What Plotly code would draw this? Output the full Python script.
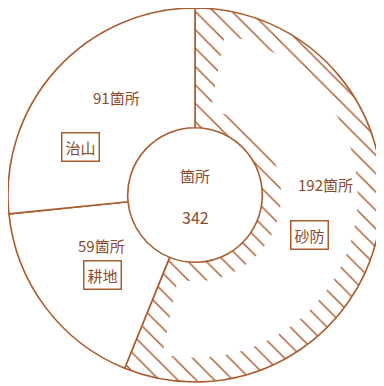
import plotly.graph_objects as go

labels = ["砂防", "耕地", "治山"]
counts = [192, 59, 91]
count_text = ["192箇所", "59箇所", "91箇所"]
total = sum(counts)

LINE = "#a95c2f"
TEXT = "#8a4b2e"
FONT = "Noto Sans CJK JP"

fig = go.Figure()

# main donut, 砂防 hatched
fig.add_trace(
    go.Pie(
        labels=labels,
        values=counts,
        sort=False,
        direction="clockwise",
        rotation=0,
        hole=0.36,
        textinfo="none",
        hoverinfo="skip",
        showlegend=False,
        marker=dict(
            colors=["white", "white", "white"],
            line=dict(color=LINE, width=1.6),
            pattern=dict(
                shape=["\\", "", ""],
                fgcolor=LINE,
                bgcolor="white",
                size=13,
                solidity=0.11,
            ),
        ),
    )
)

# white inset so the hatching only runs along the edges of the 砂防 slice
gap = 10
fig.add_trace(
    go.Pie(
        values=[gap, counts[0] - 2 * gap, gap + counts[1] + counts[2]],
        sort=False,
        direction="clockwise",
        rotation=0,
        hole=0.53,
        textinfo="none",
        hoverinfo="skip",
        showlegend=False,
        domain=dict(x=[0.065, 0.935], y=[0.065, 0.935]),
        marker=dict(colors=["rgba(0,0,0,0)", "white", "rgba(0,0,0,0)"], line=dict(width=0)),
    )
)

# slice labels: count above, boxed name below
label_pos = {
    "砂防": ((0.848, 0.527), (0.807, 0.393)),
    "耕地": ((0.249, 0.364), (0.254, 0.286)),
    "治山": ((0.291, 0.762), (0.193, 0.628)),
}
for name, txt in zip(labels, count_text):
    (cx, cy), (bx, by) = label_pos[name]
    fig.add_annotation(x=cx, y=cy, xref="paper", yref="paper", text=txt, showarrow=False,
                       xanchor="center", yanchor="middle",
                       font=dict(family=FONT, size=15, color=TEXT))
    fig.add_annotation(x=bx, y=by, xref="paper", yref="paper", text=name, showarrow=False,
                       xanchor="center", yanchor="middle",
                       font=dict(family=FONT, size=15, color=TEXT),
                       bordercolor=LINE, borderwidth=1.5, borderpad=3, bgcolor="white")

fig.add_annotation(x=0.5, y=0.553, xref="paper", yref="paper", text="箇所", showarrow=False,
                   xanchor="center", yanchor="middle",
                   font=dict(family=FONT, size=15, color=TEXT))
fig.add_annotation(x=0.5, y=0.441, xref="paper", yref="paper", text=str(total), showarrow=False,
                   xanchor="center", yanchor="middle",
                   font=dict(family=FONT, size=16, color=TEXT))

fig.update_layout(
    width=376,
    height=378,
    margin=dict(l=0, r=2, t=0, b=4),
    paper_bgcolor="white",
    plot_bgcolor="white",
)

fig.write_html("out.html")
